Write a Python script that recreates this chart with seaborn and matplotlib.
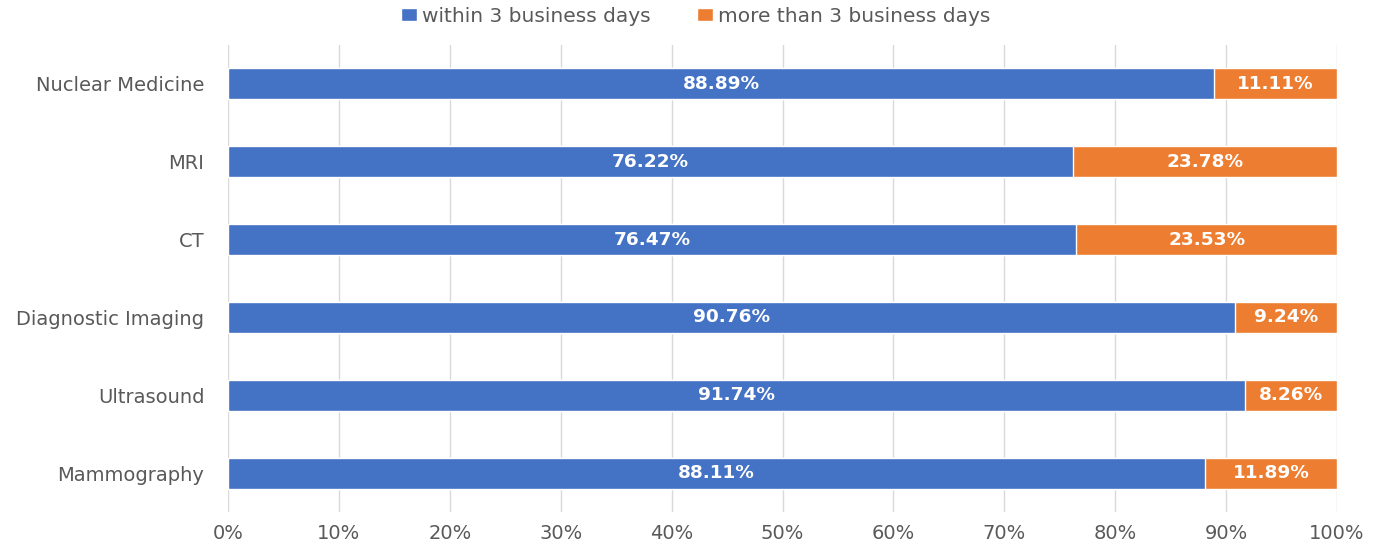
import matplotlib
matplotlib.use("Agg")
import matplotlib.pyplot as plt
import seaborn as sns
import pandas as pd
import numpy as np
from matplotlib.ticker import FuncFormatter
from matplotlib.patches import Patch

categories = ["Nuclear Medicine", "MRI", "CT", "Diagnostic Imaging", "Ultrasound", "Mammography"]
within = [88.89, 76.22, 76.47, 90.76, 91.74, 88.11]
more = [11.11, 23.78, 23.53, 9.24, 8.26, 11.89]
series_names = ["within 3 business days", "more than 3 business days"]

sns.set_theme(style="white")
plt.rcParams['font.family'] = ['DejaVu Sans']

blue = "#4472C4"
orange = "#ED7D31"
gray = "#595959"

df = pd.DataFrame({"category": categories, "within": within, "more": more})
df["total"] = df["within"] + df["more"]

fig = plt.figure(figsize=(13.82, 5.46), dpi=100)
ax = fig.add_axes([0.165, 0.0623, 0.8025, 0.8553])

sns.barplot(data=df, y="category", x="total", color=orange, orient="h", width=0.4,
            saturation=1, ax=ax, zorder=3)
sns.barplot(data=df, y="category", x="within", color=blue, orient="h", width=0.4,
            saturation=1, ax=ax, zorder=4)

for i, (w, m) in enumerate(zip(within, more)):
    ax.text(w / 2, i, f"{w:.2f}%", ha="center", va="center", color="white",
            fontsize=13.3, fontweight="bold", zorder=5)
    ax.text(w + m / 2, i, f"{m:.2f}%", ha="center", va="center", color="white",
            fontsize=13.3, fontweight="bold", zorder=5)

ax.set_xlim(0, 100)
ax.set_ylim(5.5, -0.5)
ax.set_xticks(np.arange(0, 101, 10))
ax.xaxis.set_major_formatter(FuncFormatter(lambda v, p: f"{int(v)}%"))
ax.grid(axis="x", color="#D9D9D9", linewidth=1, zorder=0)
ax.set_axisbelow(True)
for s in ax.spines.values():
    s.set_visible(False)
ax.set_xlabel("")
ax.set_ylabel("")
ax.tick_params(axis="both", length=0, labelsize=14, colors=gray)
ax.tick_params(axis="x", pad=9)
ax.tick_params(axis="y", pad=17)

handles = [Patch(facecolor=blue, label=series_names[0]),
           Patch(facecolor=orange, label=series_names[1])]
leg = fig.legend(handles=handles, loc="center", bbox_to_anchor=(0.5 + 5 / 1382, 1 - 16 / 546),
                 ncol=2, frameon=False, fontsize=14.5, handlelength=0.8, handleheight=0.6,
                 columnspacing=2.3, handletextpad=0.25, borderpad=0)
for t in leg.get_texts():
    t.set_color(gray)

fig.savefig("out.png", dpi=100)
